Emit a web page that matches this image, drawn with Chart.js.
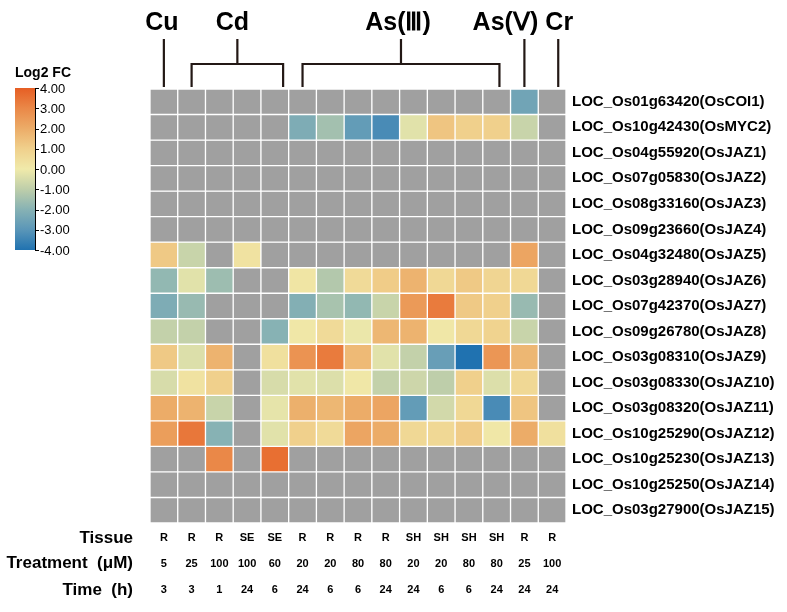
<!DOCTYPE html>
<html>
<head>
<meta charset="utf-8">
<script src="https://cdn.jsdelivr.net/npm/chart.js@4/dist/chart.umd.min.js"></script>
<style>
  html, body { margin: 0; padding: 0; background: #fff; }
  #wrap { width: 787px; height: 612px; }
</style>
</head>
<body>
<div id="wrap"><canvas id="heat" width="787" height="612"></canvas></div>
<script>
// columns (samples)
var tissue    = ["R", "R", "R", "SE", "SE", "R", "R", "R", "R", "SH", "SH", "SH", "SH", "R", "R"];
var treatment = ["5", "25", "100", "100", "60", "20", "20", "80", "80", "20", "20", "80", "80", "25", "100"];
var timeH     = ["3", "3", "1", "24", "6", "24", "6", "6", "24", "24", "6", "6", "24", "24", "24"];

// metal groups: [label, first col, last col]
var groups = [["Cu", 0, 0], ["Cd", 1, 4], ["As(Ⅲ)", 5, 12], ["As(Ⅴ)", 13, 13], ["Cr", 14, 14]];

var genes = [
  "LOC_Os01g63420(OsCOI1)", "LOC_Os10g42430(OsMYC2)", "LOC_Os04g55920(OsJAZ1)",
  "LOC_Os07g05830(OsJAZ2)", "LOC_Os08g33160(OsJAZ3)", "LOC_Os09g23660(OsJAZ4)",
  "LOC_Os04g32480(OsJAZ5)", "LOC_Os03g28940(OsJAZ6)", "LOC_Os07g42370(OsJAZ7)",
  "LOC_Os09g26780(OsJAZ8)", "LOC_Os03g08310(OsJAZ9)", "LOC_Os03g08330(OsJAZ10)",
  "LOC_Os03g08320(OsJAZ11)", "LOC_Os10g25290(OsJAZ12)", "LOC_Os10g25230(OsJAZ13)",
  "LOC_Os10g25250(OsJAZ14)", "LOC_Os03g27900(OsJAZ15)"
];

// log2 fold change, null = no data (grey)
var n = null;
var log2fc = [
  [n, n, n, n, n, n, n, n, n, n, n, n, n, -2.5, n],
  [n, n, n, n, n, -2.2, -1.5, -2.8, -3.3, -0.3, 1.3, 1.0, 1.0, -0.8, n],
  [n, n, n, n, n, n, n, n, n, n, n, n, n, n, n],
  [n, n, n, n, n, n, n, n, n, n, n, n, n, n, n],
  [n, n, n, n, n, n, n, n, n, n, n, n, n, n, n],
  [n, n, n, n, n, n, n, n, n, n, n, n, n, n, n],
  [1.2, -0.8, n, 0.3, n, n, n, n, n, n, n, n, n, 2.2, n],
  [-1.8, -0.3, -1.6, n, n, 0.2, -1.2, 0.6, 1.1, 1.8, 0.7, 1.2, 0.8, 0.7, n],
  [-2.2, -1.7, n, n, n, -2.1, -1.4, -1.8, -0.8, 2.5, 3.3, 1.2, 1.0, -1.7, n],
  [-0.9, -0.9, n, n, -2.0, 0.1, 0.6, -0.1, 1.7, 1.8, 0.1, 0.7, 0.9, -0.8, n],
  [1.2, -0.4, 1.8, n, 0.4, 2.7, 3.3, 1.6, -0.3, -0.9, -2.7, -4.0, 2.6, 1.7, n],
  [-0.5, 0.3, 1.0, n, -0.5, -0.3, -0.4, 0.1, -0.9, -0.7, -1.0, 1.0, -0.4, 0.7, n],
  [2.0, 1.8, -0.8, n, -0.2, 1.9, 1.7, 2.0, 2.2, -2.8, -0.6, 0.7, -3.3, 1.3, n],
  [2.4, 3.4, -2.0, n, -0.3, 1.0, 0.6, 2.2, 2.0, 0.7, 0.7, 1.1, 0.1, 2.0, 0.4],
  [n, n, 3.0, n, 3.6, n, n, n, n, n, n, n, n, n, n],
  [n, n, n, n, n, n, n, n, n, n, n, n, n, n, n],
  [n, n, n, n, n, n, n, n, n, n, n, n, n, n, n]
];

var scaleTicks = [4, 3, 2, 1, 0, -1, -2, -3, -4];

// colour ramp -4 .. 4
var ramp = [
  [32, 114, 176], [90, 150, 184], [135, 178, 180], [190, 206, 170], [240, 234, 170],
  [240, 208, 140], [236, 172, 104], [234, 136, 72], [230, 94, 36]
];
var NA_COLOR = "#a0a0a0";

function colorFor(v) {
  if (v === null) return NA_COLOR;
  var t = Math.max(-4, Math.min(4, v)) + 4;
  var i = Math.min(7, Math.floor(t));
  var f = t - i;
  var a = ramp[i], b = ramp[i + 1];
  var c = [0, 1, 2].map(function (k) { return Math.round(a[k] + (b[k] - a[k]) * f); });
  return "rgb(" + c.join(",") + ")";
}

var colLabels = tissue.map(function (t, i) { return [t, treatment[i], timeH[i]]; });

var datasets = log2fc.map(function (row, r) {
  return {
    label: genes[r],
    data: row.map(function () { return [r, r + 1]; }),
    backgroundColor: row.map(colorFor),
    borderColor: "#ffffff",
    borderWidth: 1,
    borderSkipped: false,
    categoryPercentage: 1,
    barPercentage: 1,
    grouped: false
  };
});

var FONT = "Liberation Sans, Arial, sans-serif";

var decorations = {
  id: "decorations",
  afterDraw: function (chart) {
    var ctx = chart.ctx;
    var xs = chart.scales.x;
    var top = chart.chartArea.top;
    // small hand tweaks so brackets / labels sit like the original figure
    var lineShift = { "Cu": 0, "Cd": 0, "As(Ⅲ)": 0, "As(Ⅴ)": 0, "Cr": 0.22 };
    var endShift = { "Cd": 0.3, "As(Ⅲ)": 0.1 };
    var textShift = { "Cu": -2, "Cd": -5, "As(Ⅲ)": -3, "As(Ⅴ)": -19, "Cr": 1 };
    ctx.save();

    // metal group labels and brackets
    ctx.strokeStyle = "#231815";
    ctx.lineWidth = 2.2;
    ctx.fillStyle = "#000";
    ctx.font = "bold 25px " + FONT;
    ctx.textAlign = "center";
    ctx.textBaseline = "middle";
    groups.forEach(function (g) {
      var name = g[0];
      var x0 = xs.getPixelForValue(g[1] + lineShift[name]);
      var x1 = xs.getPixelForValue(g[2] + lineShift[name] + (endShift[name] || 0));
      var xm = (x0 + x1) / 2;
      ctx.fillText(name, xm + textShift[name], 23);
      ctx.beginPath();
      if (g[1] === g[2]) {
        ctx.moveTo(xm, 39);
        ctx.lineTo(xm, top - 2);
      } else {
        ctx.moveTo(xm, 39);
        ctx.lineTo(xm, 64);
        ctx.moveTo(x0, top - 2);
        ctx.lineTo(x0, 64);
        ctx.lineTo(x1, 64);
        ctx.lineTo(x1, top - 2);
      }
      ctx.stroke();
    });

    // row titles under the heat map
    ctx.font = "bold 17px " + FONT;
    ctx.textAlign = "right";
    ctx.fillText("Tissue", 133, 538);
    ctx.fillText("Treatment  (μM)", 133, 563);
    ctx.fillText("Time  (h)", 133, 590);

    // colour bar legend
    var bx = 15, bw = 20, by0 = 88, by1 = 250;
    var grad = ctx.createLinearGradient(0, by0, 0, by1);
    for (var i = 0; i < ramp.length; i++) {
      grad.addColorStop(i / 8, colorFor(4 - i));
    }
    ctx.fillStyle = grad;
    ctx.fillRect(bx, by0, bw, by1 - by0);
    ctx.strokeStyle = "#000";
    ctx.lineWidth = 1;
    ctx.beginPath();
    ctx.moveTo(bx + bw + 0.5, by0);
    ctx.lineTo(bx + bw + 0.5, by1);
    scaleTicks.forEach(function (v, k) {
      var y = Math.round(by0 + k * (by1 - by0) / 8) + 0.5;
      ctx.moveTo(bx + bw, y);
      ctx.lineTo(bx + bw + 4, y);
    });
    ctx.stroke();
    ctx.fillStyle = "#000";
    ctx.font = "13px " + FONT;
    ctx.textAlign = "left";
    scaleTicks.forEach(function (v, k) {
      var y = by0 + k * (by1 - by0) / 8;
      ctx.fillText(v.toFixed(2), bx + bw + 5, y + 1);
    });
    ctx.font = "bold 14px " + FONT;
    ctx.fillText("Log2 FC", 15, 73);

    ctx.restore();
  }
};

new Chart(document.getElementById("heat"), {
  type: "bar",
  data: { labels: colLabels, datasets: datasets },
  options: {
    responsive: false,
    animation: false,
    layout: { padding: { left: 150, top: 89, right: 0, bottom: 0 } },
    plugins: { legend: { display: false }, tooltip: { enabled: false } },
    scales: {
      x: {
        grid: { display: false, drawTicks: false },
        border: { display: false },
        ticks: {
          color: "#000",
          font: { family: FONT, size: 11, weight: "bold", lineHeight: 2.35 },
          padding: 2,
          maxRotation: 0,
          autoSkip: false
        },
        afterFit: function (s) { s.height = 89; }
      },
      y: {
        display: false,
        reverse: true,
        min: 0,
        max: genes.length
      },
      y2: {
        type: "category",
        labels: genes,
        position: "right",
        offset: true,
        grid: { display: false, drawTicks: false },
        border: { display: false },
        ticks: {
          color: "#000",
          font: { family: FONT, size: 15, weight: "bold" },
          padding: 6,
          autoSkip: false
        },
        afterFit: function (s) { s.width = 221; }
      }
    }
  },
  plugins: [decorations]
});
</script>
</body>
</html>
